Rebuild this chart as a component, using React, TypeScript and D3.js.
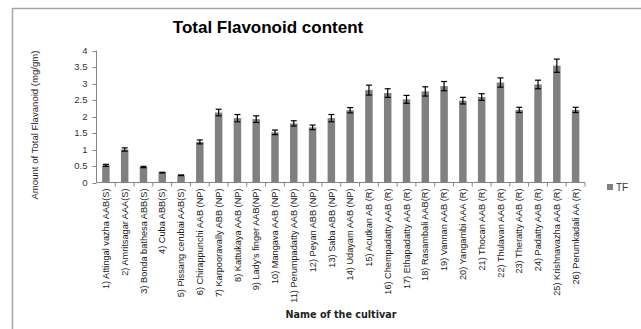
import React from "react";
import * as d3 from "d3";

const categories = [
  "1) Attingal vazha AAB(S)",
  "2) Amritsagar AAA(S)",
  "3) Bonda bathesa ABB(S)",
  "4) Cuba ABB(S)",
  "5) Pissang cerubai AAB(S)",
  "6) Chirappunchi AAB (NP)",
  "7) Karpooravally ABB (NP)",
  "8) Kattukaya AAB (NP)",
  "9) Lady's finger AAB(NP)",
  "10) Mangava AAB (NP)",
  "11) Perumpadatty AAB (NP)",
  "12) Peyan ABB (NP)",
  "13) Saba ABB (NP)",
  "14) Udayam AAB (NP)",
  "15) Acutkan AB (R)",
  "16) Chempadatty AAB (R)",
  "17) Ethapadatty AAB (R)",
  "18) Rasambali AAB(R)",
  "19) Vannan AAB (R)",
  "20) Yangambi AAA (R)",
  "21) Thocan AAB (R)",
  "22) Thulavan AAB (R)",
  "23) Theratty AAB (R)",
  "24) Padatty AAB (R)",
  "25) Krishnavazha AAB (R)",
  "26) Perumkadali AA (R)",
];
const tfValues = [0.52, 1.0, 0.47, 0.3, 0.22, 1.23, 2.12, 1.95, 1.92, 1.52, 1.79, 1.67, 1.95, 2.19, 2.8, 2.71, 2.52, 2.76, 2.92, 2.48, 2.59, 3.03, 2.2, 2.97, 3.54, 2.2];
const tfErrors = [0.03, 0.05, 0.02, 0.01, 0.01, 0.06, 0.1, 0.11, 0.1, 0.07, 0.08, 0.07, 0.11, 0.08, 0.15, 0.13, 0.12, 0.14, 0.14, 0.1, 0.1, 0.14, 0.08, 0.13, 0.2, 0.08];
const yTicks = [0, 0.5, 1, 1.5, 2, 2.5, 3, 3.5, 4];
const seriesName = "TF";

export default function App() {
  const W = 641, H = 329;
  const left = 96.5, right = 585, top = 50.5, bottom = 182.5;
  const x = d3.scaleBand<string>().domain(categories).range([left, right]).paddingInner(0).paddingOuter(0);
  const y = d3.scaleLinear().domain([0, 4]).range([bottom, top]);
  const bw = 7.5;
  const font = "'Liberation Sans', Arial, sans-serif";
  return (
    <svg width={W} height={H} style={{ position: "absolute", left: 0, top: 0, background: "#fff" }}>
      <line x1={12} y1={8.5} x2={W} y2={8.5} stroke="#a6a6a6" strokeWidth={1.5} />
      <line x1={12.5} y1={8} x2={12.5} y2={H} stroke="#a6a6a6" strokeWidth={1.5} />
      <text x={268} y={33} textAnchor="middle" fontFamily={font} fontWeight="bold" fontSize={17} fill="#000">
        Total Flavonoid content
      </text>
      {/* y axis */}
      <line x1={left} y1={top} x2={left} y2={bottom} stroke="#868686" />
      {yTicks.map((t) => (
        <g key={t}>
          <line x1={left - 4} x2={left} y1={Math.round(y(t)) + 0.5} y2={Math.round(y(t)) + 0.5} stroke="#868686" />
          <text x={left - 9} y={y(t)} dy="0.35em" textAnchor="end" fontFamily={font} fontSize={9.5} fill="#333">
            {t}
          </text>
        </g>
      ))}
      {/* x axis */}
      <line x1={left} y1={bottom} x2={right} y2={bottom} stroke="#868686" />
      {categories.map((c, i) => (
        <line key={"t" + i} x1={(x(c) as number) + x.bandwidth()} x2={(x(c) as number) + x.bandwidth()} y1={bottom} y2={bottom + 4} stroke="#868686" />
      ))}
      {categories.map((c, i) => {
        const cx = (x(c) as number) + x.bandwidth() / 2;
        const v = tfValues[i];
        const e = tfErrors[i];
        return (
          <g key={c}>
            <rect x={cx - bw / 2} y={y(v)} width={bw} height={bottom - y(v)} fill="#808080" />
            <line x1={cx} x2={cx} y1={y(v + e)} y2={y(v - e)} stroke="#000" strokeWidth={1.2} />
            <line x1={cx - 3} x2={cx + 3} y1={y(v + e)} y2={y(v + e)} stroke="#000" strokeWidth={1.2} />
            <line x1={cx - 3} x2={cx + 3} y1={y(v - e)} y2={y(v - e)} stroke="#000" strokeWidth={1.2} />
            <text
              transform={`translate(${cx + 3.2},${bottom + 6}) rotate(-90)`}
              textAnchor="end"
              fontFamily={font}
              fontSize={9.2}
              fill="#222"
            >
              {c}
            </text>
          </g>
        );
      })}
      <text transform={`translate(38,125) rotate(-90)`} textAnchor="middle" fontFamily={font} fontSize={9.6} fill="#222">
        Amount of Total Flavanoid (mg/gm)
      </text>
      <text x={341} y={318} textAnchor="middle" fontFamily="'DejaVu Sans', sans-serif" fontWeight="bold" fontSize={9.6} fill="#222">
        Name of the cultivar
      </text>
      <rect x={607} y={184} width={6} height={6} fill="#808080" />
      <text x={616} y={187} dy="0.35em" fontFamily={font} fontSize={10} fill="#333">
        {seriesName}
      </text>
    </svg>
  );
}
